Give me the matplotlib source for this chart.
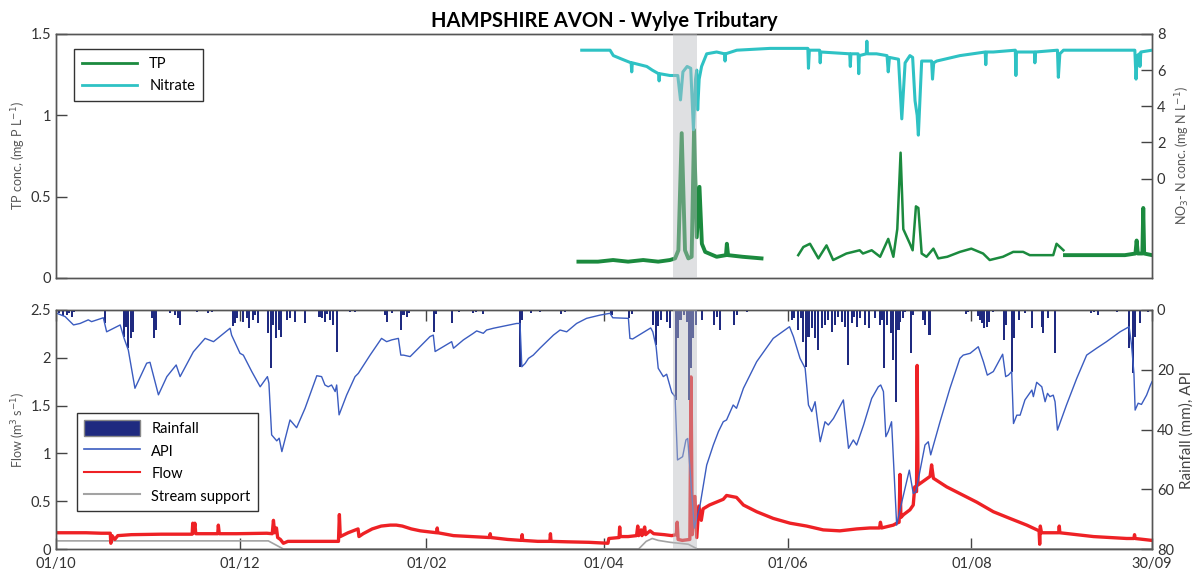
import numpy as np
import pandas as pd
import matplotlib
matplotlib.use('Agg')
import matplotlib.pyplot as plt
import matplotlib.dates as mdates
from matplotlib.patches import Patch
from matplotlib.lines import Line2D

plt.rcParams['font.family'] = ['Lato', 'DejaVu Sans']

# water year, day 0 = 01/10
start = pd.Timestamp('2013-10-01')
end = pd.Timestamp('2014-09-30')
event = (205.0, 213.0)  # shaded storm period (days)

# TP (mg P/L): three logged segments
tp_a = [(173.5, 0.10), (180, 0.10), (185, 0.11), (190, 0.10), (195, 0.11), (200, 0.10),
        (203.9, 0.11), (205.6, 0.12), (206.7, 0.17), (207.8, 0.89), (208.9, 0.17),
        (210.0, 0.12), (211.1, 0.13), (211.9, 0.91), (212.8, 0.25), (213.7, 0.56),
        (214.5, 0.21), (215.6, 0.16), (219.4, 0.13), (222.5, 0.14), (222.8, 0.21),
        (223.2, 0.14), (228, 0.13), (234.3, 0.12)]
tp_b = [(246.5, 0.14), (248.2, 0.19), (250.4, 0.21), (253.2, 0.12), (255.9, 0.20),
        (258.1, 0.11), (262.5, 0.15), (266.9, 0.17), (268, 0.15), (270.9, 0.17),
        (273.7, 0.13), (276.4, 0.24), (278.1, 0.13), (279.4, 0.30), (280.5, 0.77),
        (281.4, 0.30), (283.6, 0.21), (284.5, 0.17), (285.6, 0.44), (286.4, 0.43),
        (287.5, 0.15), (289.1, 0.13), (291.4, 0.18), (293.0, 0.12), (296, 0.13),
        (300.2, 0.16), (304.0, 0.18), (307.9, 0.15), (310.1, 0.11), (314.5, 0.13),
        (317.9, 0.16), (321.2, 0.16), (323.4, 0.14), (331.2, 0.14), (332.3, 0.21),
        (334.6, 0.17)]
tp_c = [(335.1, 0.14), (340, 0.14), (345, 0.14), (350, 0.14), (355, 0.14), (358.5, 0.15),
        (358.9, 0.23), (359.3, 0.15), (360.8, 0.15), (361.1, 0.43), (361.4, 0.15),
        (364, 0.14)]

# nitrate (mg N/L)
no3 = [(174.6, 7.1), (180, 7.1), (184.0, 7.1), (185.1, 6.8), (188, 6.6), (191.0, 6.4),
       (191.2, 5.9), (191.4, 6.4), (196.2, 6.2), (198, 6.0), (200.1, 5.8), (200.3, 5.4),
       (200.5, 5.8), (203.9, 5.7), (206.5, 5.7), (207.4, 4.35), (208.2, 5.9), (209.6, 6.2),
       (210.8, 6.1), (211.7, 2.7), (212.4, 5.5), (212.8, 6.0), (213.1, 3.8), (213.6, 5.5),
       (214.4, 6.2), (216.1, 6.9), (219.4, 7.0), (222.0, 6.9), (222.2, 6.5), (222.4, 6.9),
       (226.1, 7.1), (237.1, 7.2), (248.2, 7.2), (249.7, 7.2), (249.9, 6.1), (250.2, 7.1),
       (253.6, 7.1), (253.8, 6.4), (254.0, 7.0), (263.6, 6.9), (263.8, 6.2), (264.0, 6.9),
       (266.4, 6.9), (266.6, 5.8), (266.8, 6.8), (269.1, 6.9), (269.3, 7.6), (269.5, 6.9),
       (272.5, 6.9), (276.0, 6.8), (276.4, 5.9), (276.8, 6.7), (279.8, 6.6), (280.9, 3.3),
       (282.0, 6.4), (283.6, 6.8), (284.5, 6.7), (285.3, 4.3), (286.0, 3.5), (286.4, 2.4),
       (287.5, 6.5), (290.8, 6.5), (291.1, 5.5), (291.5, 6.4), (292.5, 6.5), (300.2, 6.8),
       (308.6, 7.0), (308.8, 6.3), (309.0, 7.0), (311.3, 7.0), (318.6, 7.1), (318.8, 5.7),
       (319.0, 7.0), (325.0, 7.0), (325.1, 6.4), (325.3, 7.0), (332.6, 7.1), (332.9, 5.6),
       (333.4, 6.9), (334.6, 7.1), (344.6, 7.1), (358.3, 7.1), (358.7, 5.5), (359.1, 6.8),
       (359.8, 6.9), (360.0, 6.2), (360.3, 7.0), (364, 7.1)]

# daily rainfall (mm)
rain = [(1.0, 1.1), (2.3, 2.0), (3.5, 1.7), (4.4, 1.1), (5.2, 2.2), (6.0, 0.8), (11.1, 0.5),
        (16.3, 4.5), (22.6, 8.9), (23.2, 5.6), (24.0, 12.8), (24.8, 9.5), (25.7, 7.3),
        (31.8, 2.8), (32.5, 9.5), (33.2, 6.7), (37.9, 1.1), (39.5, 1.7), (40.4, 2.8),
        (41.2, 5.0), (45.8, 0.5), (46.7, 0.6), (50.6, 1.1), (51.7, 0.8), (58.7, 5.2),
        (59.5, 4.5), (60.2, 2.8), (62.0, 3.9), (63.3, 2.8), (64.2, 6.1), (65.3, 3.3),
        (66.1, 1.7), (67.2, 4.5), (70.5, 7.8), (71.3, 19.5), (72.0, 5.0), (73.0, 9.5),
        (74.0, 6.7), (74.7, 8.9), (76.8, 3.3), (77.7, 2.8), (79.4, 3.9), (82.7, 4.5),
        (87.5, 2.2), (88.2, 2.8), (89.3, 3.9), (90.1, 1.5), (90.9, 3.3), (92.1, 5.0),
        (93.4, 13.9), (97.6, 0.6), (99.3, 0.6), (109.3, 1.7), (109.8, 3.9), (111.5, 1.1),
        (114.5, 6.7), (115.4, 1.7), (116.7, 2.2), (117.3, 1.0), (119.5, 0.5), (125.5, 7.3),
        (126.2, 1.5), (131.4, 4.5), (133.9, 0.6), (138.6, 1.1), (139.5, 0.6), (141.7, 1.2),
        (154.1, 19.0), (154.7, 3.5), (157.6, 1.0), (160.7, 0.6), (165.0, 0.4), (167.8, 1.2),
        (169.0, 0.6), (184.5, 1.7), (185.6, 0.5), (190.4, 2.8), (191.2, 1.5), (192.9, 0.5),
        (198.4, 5.0), (199.3, 11.7), (200.0, 5.5), (200.8, 3.3), (203.0, 3.9), (203.9, 6.1),
        (205.9, 30.1), (206.7, 9.5), (207.4, 3.3), (208.5, 1.7), (209.5, 3.9), (210.3, 30.1),
        (211.0, 19.5), (211.6, 9.5), (212.6, 5.0), (214.5, 3.3), (218.5, 5.0), (219.4, 2.2),
        (220.4, 6.7), (225.2, 5.0), (226.1, 1.7), (229.4, 0.6), (230.5, 0.5), (244.3, 3.3),
        (245.1, 2.8), (246.5, 6.7), (247.3, 2.8), (248.2, 10.6), (249.1, 19.0), (249.9, 9.0),
        (251.0, 6.1), (252.1, 9.5), (253.2, 13.4), (254.3, 6.1), (255.4, 5.0), (256.5, 3.3),
        (257.6, 7.3), (258.7, 5.0), (259.8, 2.2), (260.9, 3.9), (262.0, 5.6), (262.9, 18.4),
        (264.4, 4.5), (265.1, 2.2), (266.0, 5.6), (267.1, 2.8), (268.8, 5.0), (269.9, 6.1),
        (272.0, 2.8), (273.7, 5.0), (274.5, 3.3), (275.1, 19.5), (275.9, 5.0), (277.2, 7.8),
        (278.1, 16.7), (279.0, 30.7), (279.8, 6.7), (280.4, 3.9), (281.2, 2.8), (282.1, 0.6),
        (283.9, 14.5), (284.7, 1.7), (287.9, 3.3), (288.6, 5.0), (290.1, 8.4), (302.3, 1.2),
        (302.8, 0.6), (303.4, 0.5), (306.3, 2.0), (306.9, 3.3), (307.5, 4.5), (308.2, 6.1),
        (309.1, 5.6), (309.9, 3.9), (311.3, 0.6), (314.9, 10.0), (315.6, 5.0), (317.4, 20.6),
        (318.2, 9.5), (319.9, 3.3), (321.8, 1.1), (324.1, 6.1), (327.4, 5.6), (327.9, 7.8),
        (329.6, 2.8), (331.8, 14.5), (336.3, 0.5), (343.7, 1.1), (344.8, 0.6), (346.1, 1.7),
        (352.5, 0.6), (356.5, 12.8), (357.6, 21.2), (358.4, 9.0), (359.9, 4.5), (361.6, 0.5),
        (362.7, 0.6)]

# antecedent precipitation index (right axis units)
api = [(0, 1.0), (3.0, 2.2), (5.8, 5.0), (8.0, 4.5), (10.7, 3.3), (11.8, 3.9), (15.7, 2.6),
       (16.8, 7.3), (21.3, 5.0), (22.6, 9.5), (24.0, 13.4), (26.2, 26.2), (30.1, 17.8),
       (31.2, 17.5), (34.0, 28.4), (36.8, 22.3), (39.9, 18.4), (41.2, 22.3), (45.6, 14.0),
       (49.5, 9.5), (52.3, 10.6), (57.8, 6.1), (58.3, 8.4), (61.1, 14.5), (62.2, 15.1),
       (65.0, 20.6), (67.8, 25.7), (70.2, 22.3), (70.7, 24.5), (71.6, 41.8), (73.3, 43.8),
       (74.1, 42.9), (75.0, 47.4), (77.7, 36.8), (79.9, 39.4), (82.7, 32.9), (86.6, 22.0),
       (88.2, 22.3), (89.3, 25.1), (90.4, 25.7), (91.5, 25.1), (92.7, 27.3), (93.2, 25.1),
       (94.0, 35.1), (96.5, 28.5), (99.3, 22.3), (100.4, 21.2), (104.3, 15.1), (108.1, 9.5),
       (109.8, 10.6), (111.5, 10.0), (113.7, 9.5), (114.5, 15.1), (115.4, 15.1),
       (117.6, 15.6), (124.2, 8.9), (125.3, 8.4), (125.9, 13.9), (128.6, 12.3),
       (131.4, 10.6), (132.0, 12.8), (135.3, 10.0), (138.6, 7.8), (139.7, 7.0),
       (141.9, 7.8), (143.0, 6.7), (145.3, 6.1), (153.0, 4.5), (154.1, 4.5), (154.7, 19.0),
       (155.8, 17.9), (156.9, 16.2), (158.5, 15.1), (160.7, 12.8), (165.2, 8.4),
       (167.4, 6.7), (169.6, 7.3), (172.9, 4.5), (176.2, 2.8), (180.7, 1.7), (184.0, 1.1),
       (184.9, 2.6), (190.1, 2.8), (190.6, 9.5), (191.5, 9.7), (197.5, 6.0), (198.2, 7.3),
       (199.3, 12.3), (200.0, 19.5), (201.7, 22.3), (202.8, 21.5), (204.5, 27.6),
       (205.6, 29.0), (206.4, 50.2), (208.1, 49.1), (209.2, 43.5), (209.8, 43.0),
       (212.0, 73.0), (213.9, 65.3), (216.1, 51.9), (218.3, 45.2), (220.0, 40.7),
       (221.6, 37.4), (222.7, 36.8), (224.9, 31.8), (226.0, 32.9), (228.3, 26.2),
       (232.7, 17.3), (238.2, 9.5), (243.6, 5.6), (244.9, 8.9), (247.1, 16.2), (248.8, 19.5),
       (249.9, 31.8), (251.0, 34.0), (252.1, 30.7), (253.8, 44.1), (255.4, 37.4),
       (256.5, 38.5), (258.2, 36.3), (261.5, 30.1), (263.2, 46.3), (264.8, 43.5),
       (265.9, 45.2), (268.2, 38.5), (270.9, 29.6), (273.1, 25.7), (273.9, 25.1),
       (274.8, 27.3), (275.6, 42.4), (276.4, 40.7), (277.5, 37.4), (279.2, 72.0),
       (280.9, 64.3), (283.4, 53.6), (284.7, 61.4), (285.6, 60.8), (288.6, 45.2),
       (289.7, 44.1), (290.5, 48.5), (293.6, 37.4), (296.9, 26.2), (300.2, 16.2),
       (301.3, 15.1), (303.6, 14.5), (306.3, 12.3), (308.0, 17.3), (309.3, 21.8),
       (311.3, 20.6), (314.4, 14.8), (315.4, 22.3), (316.3, 21.8), (317.4, 20.6),
       (318.0, 38.0), (319.1, 35.2), (320.2, 35.2), (321.8, 30.1), (322.9, 28.5),
       (324.1, 26.8), (324.6, 29.0), (325.7, 24.2), (327.4, 25.7), (328.5, 30.7),
       (329.3, 27.9), (330.1, 29.0), (331.2, 28.5), (331.8, 30.7), (332.6, 40.2),
       (335.6, 31.8), (339.0, 22.9), (342.3, 15.1), (345.6, 12.8), (348.9, 10.6),
       (353.4, 7.3), (356.4, 5.6), (357.2, 11.7), (358.0, 21.2), (358.4, 33.5),
       (359.4, 31.2), (360.5, 31.6), (362.2, 28.5), (363.5, 25.1), (364, 24.0)]

# flow (m3/s)
flow = [(0, 0.17), (5, 0.17), (10, 0.17), (15, 0.165), (18.0, 0.165), (18.2, 0.06),
        (18.6, 0.14), (19.5, 0.10), (20.5, 0.14), (25, 0.15), (35, 0.155), (45.2, 0.155),
        (45.4, 0.27), (45.7, 0.17), (46.1, 0.27), (46.4, 0.16), (53.7, 0.16), (53.9, 0.25),
        (54.2, 0.16), (60, 0.16), (70, 0.165), (71.8, 0.16), (72.2, 0.30), (72.6, 0.17),
        (73.2, 0.22), (73.6, 0.12), (74.5, 0.10), (75.5, 0.06), (77, 0.08), (85, 0.08),
        (93.8, 0.08), (94.1, 0.36), (94.4, 0.13), (97, 0.17), (100.3, 0.21), (100.6, 0.13),
        (102, 0.16), (105, 0.21), (108, 0.24), (111, 0.25), (113, 0.25), (115, 0.24),
        (118, 0.21), (121, 0.19), (126.4, 0.17), (126.6, 0.22), (126.8, 0.17), (132, 0.14),
        (138, 0.13), (144, 0.12), (144.2, 0.16), (144.4, 0.12), (150, 0.10), (154.6, 0.09),
        (154.8, 0.15), (155, 0.09), (160, 0.08), (164, 0.08), (164.2, 0.16), (164.4, 0.08),
        (170, 0.075), (177, 0.07), (183.3, 0.06), (183.6, 0.11), (187, 0.12), (187.2, 0.23),
        (187.4, 0.13), (190, 0.13), (192.8, 0.14), (193.2, 0.24), (193.5, 0.14),
        (194.3, 0.20), (194.6, 0.14), (195.5, 0.23), (195.8, 0.15), (197.3, 0.19),
        (198.5, 0.16), (202, 0.15), (204.5, 0.14), (206.0, 0.15), (206.3, 0.28),
        (206.6, 0.10), (208, 0.09), (210.5, 0.10), (210.9, 1.80), (211.3, 0.15),
        (212.2, 0.55), (212.8, 0.12), (213.5, 0.45), (214.3, 0.30), (214.9, 0.42),
        (217, 0.46), (219.3, 0.49), (221.6, 0.52), (222.7, 0.56), (226.0, 0.54),
        (228.3, 0.46), (232.7, 0.39), (238.2, 0.32), (243.8, 0.27), (249.3, 0.24),
        (254.8, 0.20), (260.3, 0.19), (265.9, 0.21), (270.3, 0.22), (273.5, 0.22),
        (273.8, 0.28), (274.2, 0.22), (278.1, 0.25), (279.2, 0.27), (280.0, 0.28),
        (280.3, 0.78), (280.6, 0.33), (281.5, 0.36), (283.6, 0.41), (284.7, 0.46),
        (285.2, 0.65), (285.8, 0.60), (286.0, 1.92), (286.3, 0.67), (288.1, 0.71),
        (290.3, 0.76), (290.8, 0.88), (291.4, 0.74), (295.8, 0.65), (300.2, 0.58),
        (305.8, 0.49), (311.3, 0.39), (316.8, 0.32), (322.4, 0.25), (326.5, 0.19),
        (326.7, 0.05), (326.9, 0.24), (327.3, 0.17), (333.0, 0.17), (333.2, 0.24),
        (333.4, 0.17), (344.6, 0.13), (355.6, 0.11), (358.0, 0.11), (358.2, 0.15),
        (358.4, 0.11), (364, 0.09)]

# stream support (m3/s)
support = [(0, 0.085), (70.5, 0.085), (75.5, 0.0), (193.5, 0.0), (196, 0.08), (198, 0.11),
           (200, 0.09), (204, 0.07), (207, 0.06), (210, 0.05), (213, 0.0), (364, 0.0)]


def xy(pts):
    d, v = zip(*pts)
    x = mdates.date2num((start + pd.to_timedelta(np.array(d, float), unit='D')).to_pydatetime())
    return x, np.array(v)


tick_dates = ['2013-10-01', '2013-12-01', '2014-02-01', '2014-04-01',
              '2014-06-01', '2014-08-01', '2014-09-30']
xticks = mdates.date2num([pd.Timestamp(t).to_pydatetime() for t in tick_dates])
xlim = (mdates.date2num(start.to_pydatetime()), mdates.date2num(end.to_pydatetime()))
ev = [mdates.date2num((start + pd.Timedelta(days=e)).to_pydatetime()) for e in event]

c_tp = '#1b8a3e'
c_no3 = '#2ec2c4'
c_rain = '#1f2a80'
c_api = '#3b5cc0'
c_flow = '#ee2125'
c_sup = '#a3a3a3'
spine_c = '#555555'

fig = plt.figure(figsize=(12.03, 5.79), dpi=100)
ax1 = fig.add_axes([0.0466, 0.520, 0.911, 0.4214])
ax1r = ax1.twinx()
ax2 = fig.add_axes([0.0466, 0.0518, 0.911, 0.4128])
ax2r = ax2.twinx()

# ---- top panel
for seg, lw in [(tp_a, 2.8), (tp_b, 1.8), (tp_c, 2.8)]:
    x, v = xy(seg)
    ax1.plot(x, v, color=c_tp, lw=lw)
x, v = xy(no3)
ax1r.plot(x, v, color=c_no3, lw=2.2)
ax1r.axvspan(ev[0], ev[1], color='#b9bbbf', alpha=0.45, lw=0, zorder=5)

ax1.set_xlim(xlim)
ax1.set_ylim(0, 1.5)
ax1.set_yticks([0, 0.5, 1, 1.5])
ax1.set_yticklabels(['0', '0.5', '1', '1.5'])
ax1r.set_ylim(-5.5, 8)
ax1r.set_yticks([0, 2, 4, 6, 8])
ax1.tick_params(axis='x', bottom=False, labelbottom=False)
ax1.set_ylabel(r'TP conc. (mg P L$^{-1}$)', fontsize=9, color='#555555', labelpad=2)
ax1r.set_ylabel(r'NO$_3$- N conc. (mg N L$^{-1}$)', fontsize=9, color='#555555', labelpad=6)
ax1.set_title('HAMPSHIRE AVON - Wylye Tributary', fontsize=14.5, fontweight='bold', pad=5)

h_top = [Line2D([], [], color=c_tp, lw=2), Line2D([], [], color=c_no3, lw=2)]
lg = ax1r.legend(h_top, ['TP', 'Nitrate'], loc='upper left', bbox_to_anchor=(0.0164, 0.939),
                 borderaxespad=0, fancybox=False, edgecolor='#333333', fontsize=10.5,
                 handlelength=3.8, labelspacing=0.55, borderpad=0.55, framealpha=1)
lg.get_frame().set_linewidth(1.0)

# ---- bottom panel
x, v = xy(support)
ax2.plot(x, v, color=c_sup, lw=1.2)
x, v = xy(flow)
ax2.plot(x, v, color=c_flow, lw=2.4)
x, v = xy(rain)
ax2r.bar(x, v, width=0.7, color=c_rain, edgecolor='none')
x, v = xy(api)
ax2r.plot(x, v, color=c_api, lw=1.0)
ax2r.axvspan(ev[0], ev[1], color='#b9bbbf', alpha=0.45, lw=0, zorder=5)

ax2.set_xlim(xlim)
ax2.set_ylim(0, 2.5)
ax2.set_yticks([0, 0.5, 1, 1.5, 2, 2.5])
ax2.set_yticklabels(['0', '0.5', '1', '1.5', '2', '2.5'])
ax2r.set_ylim(80, 0)
ax2r.set_yticks([0, 20, 40, 60, 80])
ax2.set_xticks(xticks)
ax2.xaxis.set_major_formatter(mdates.DateFormatter('%d/%m'))
ax2.set_ylabel(r'Flow (m$^{3}$ s$^{-1}$)', fontsize=9, color='#555555', labelpad=2)
ax2r.set_ylabel('Rainfall (mm), API', fontsize=11, color='#444444', labelpad=4)

h_bot = [Patch(facecolor=c_rain, edgecolor='#888888'),
         Line2D([], [], color=c_api, lw=1.2),
         Line2D([], [], color=c_flow, lw=1.5),
         Line2D([], [], color=c_sup, lw=1.5)]
lg2 = ax2r.legend(h_bot, ['Rainfall', 'API', 'Flow', 'Stream support'], loc='upper left',
                  bbox_to_anchor=(0.019, 0.569), borderaxespad=0, fancybox=False,
                  edgecolor='#333333', fontsize=10.5, handlelength=3.8, handleheight=1.3,
                  labelspacing=0.45, borderpad=0.5, framealpha=1)
lg2.get_frame().set_linewidth(1.0)

for a in (ax1, ax1r, ax2, ax2r):
    for s in a.spines.values():
        s.set_color(spine_c)
        s.set_linewidth(1.0)
    a.tick_params(direction='in', length=8, width=1, color='#444444',
                  labelsize=10.5, labelcolor='#333333')
ax2.tick_params(axis='x', top=True, pad=6)

fig.savefig('out.png', dpi=100)
